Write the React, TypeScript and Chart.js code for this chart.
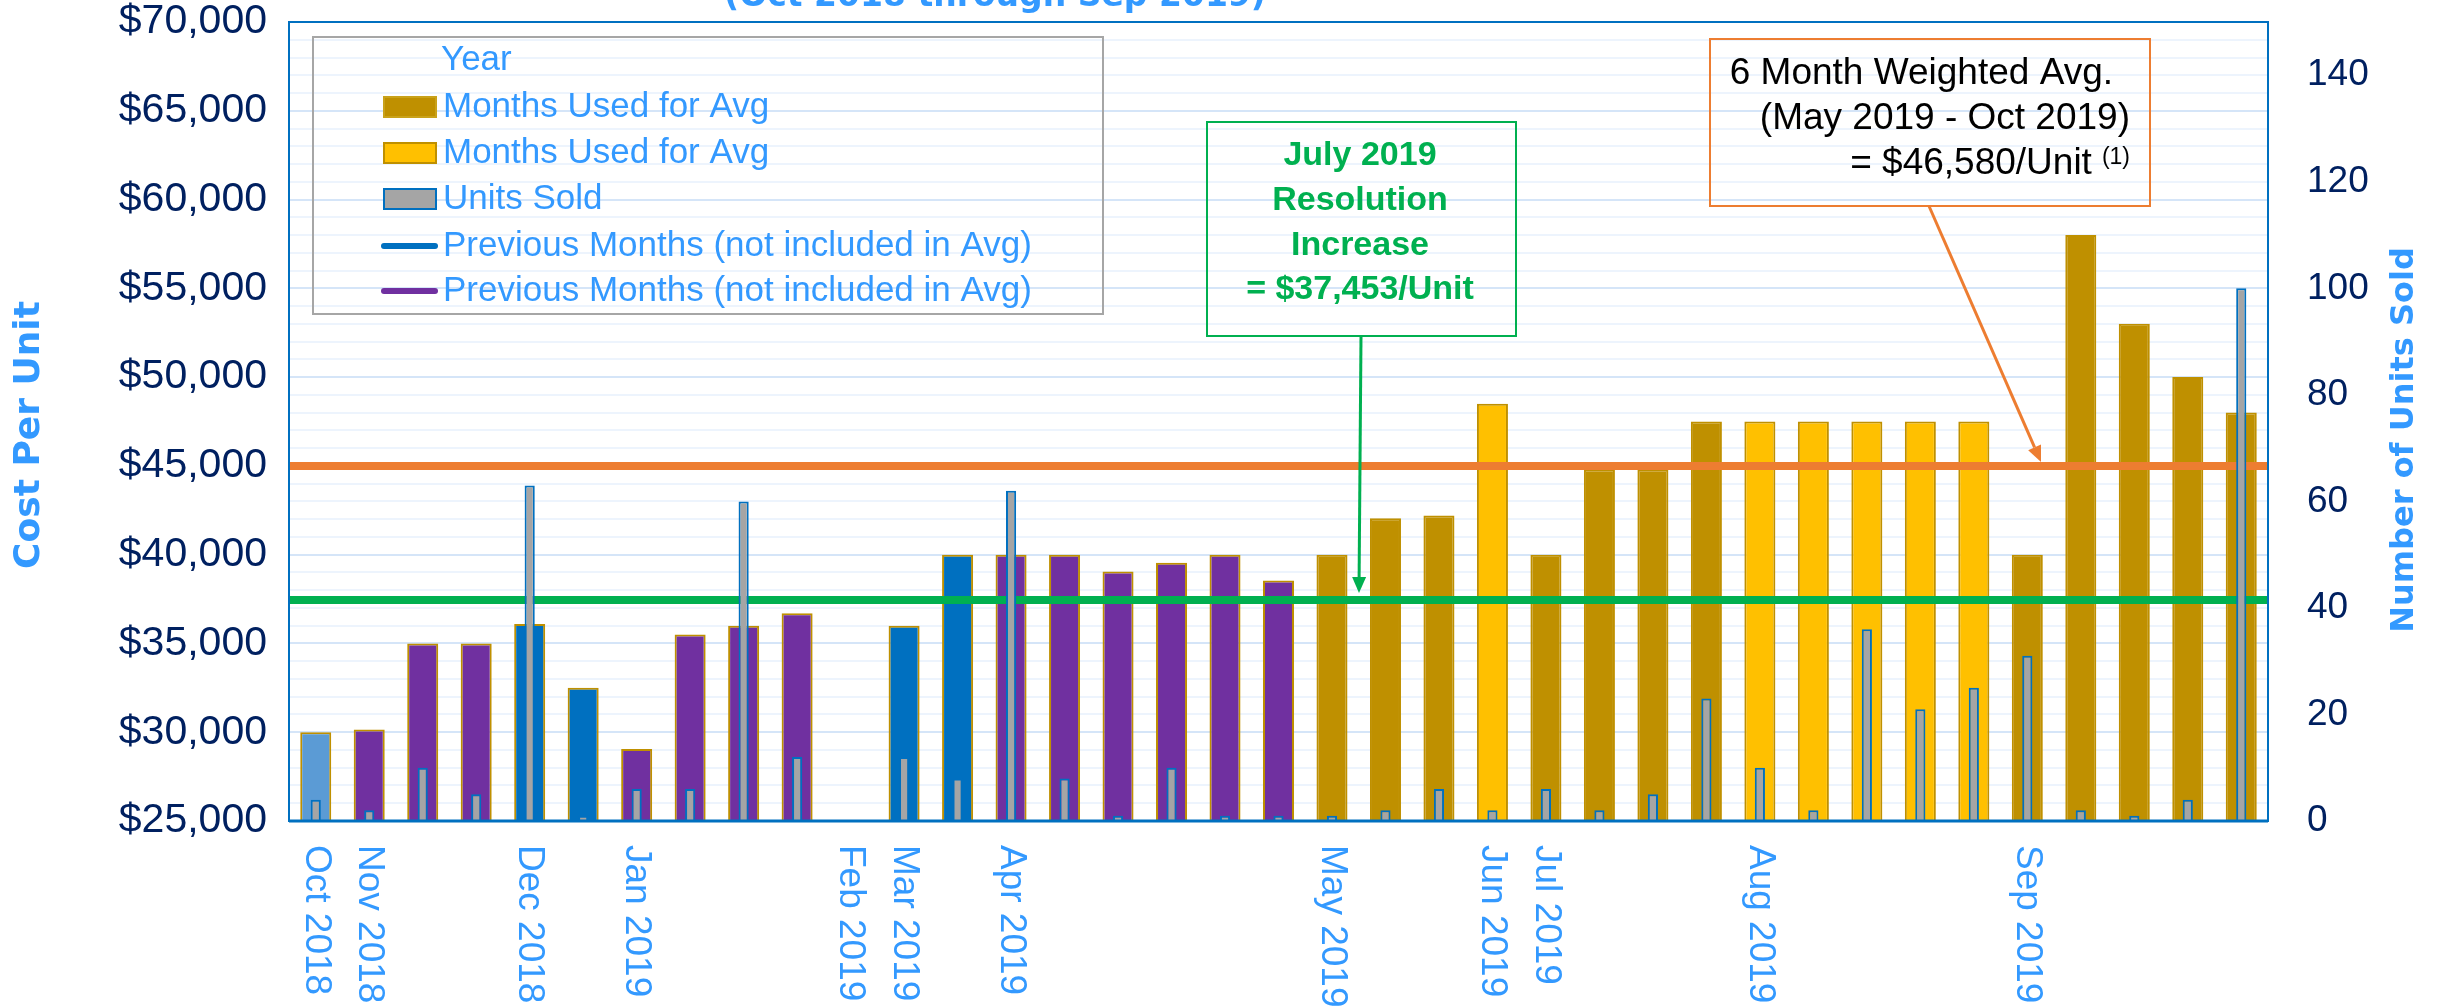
import { useEffect, useRef } from 'react';
import { Chart, registerables } from 'chart.js';

Chart.register(...registerables);

// ---------- data ----------
const monthLabels: string[] = [
  'Oct 2018', 'Nov 2018', '', '', 'Dec 2018', '', 'Jan 2019', '', '', '',
  'Feb 2019', 'Mar 2019', '', 'Apr 2019', '', '', '', '', '', 'May 2019',
  '', '', 'Jun 2019', 'Jul 2019', '', '', '', 'Aug 2019', '', '',
  '', '', 'Sep 2019', '', '', '', '',
];

const costPerUnit: (number | null)[] = [
  30000, 30150, 35000, 35000, 36100, 32500, 29050, 35500, 36000, 36700,
  null, 36000, 40000, 40000, 40000, 39050, 39550, 40000, 38550, 40000,
  42050, 42200, 48500, 40000, 44800, 44800, 47500, 47500, 47500, 47500,
  47500, 47500, 40000, 58000, 53000, 50000, 48000,
];

const unitsSold: (number | null)[] = [
  4, 2, 10, 5, 63, 1, 6, 6, 60, 12,
  null, 12, 8, 62, 8, 1, 10, 1, 1, 1,
  2, 6, 2, 6, 2, 5, 23, 10, 2, 36,
  21, 25, 31, 2, 1, 4, 100,
];

// series group of each month bar
const barGroup: string[] = [
  'first', 'prevPurple', 'prevPurple', 'prevPurple', 'prevBlue', 'prevBlue', 'prevPurple', 'prevPurple', 'prevPurple', 'prevPurple',
  'prevPurple', 'prevBlue', 'prevBlue', 'prevPurple', 'prevPurple', 'prevPurple', 'prevPurple', 'prevPurple', 'prevPurple', 'avgGold',
  'avgGold', 'avgGold', 'avgYellow', 'avgGold', 'avgGold', 'avgGold', 'avgGold', 'avgYellow', 'avgYellow', 'avgYellow',
  'avgYellow', 'avgYellow', 'avgGold', 'avgGold', 'avgGold', 'avgGold', 'avgGold',
];

const weightedAvgLine = 45000;
const resolutionLine = 37453;

const costTickMin = 25000;
const costTickMax = 70000;
const costLabelStep = 5000;
const costGridStep = 1000;
const unitTicks = [0, 20, 40, 60, 80, 100, 120, 140];

const legendItems = [
  { label: 'Months Used for Avg', kind: 'box', fill: '#BF9000', stroke: '#C9A21A' },
  { label: 'Months Used for Avg', kind: 'box', fill: '#FFC000', stroke: '#BF9000' },
  { label: 'Units Sold', kind: 'box', fill: '#A5A5A5', stroke: '#0070C0' },
  { label: 'Previous Months (not included in Avg)', kind: 'line', fill: '#0070C0', stroke: '#0070C0' },
  { label: 'Previous Months (not included in Avg)', kind: 'line', fill: '#7030A0', stroke: '#7030A0' },
];

// ---------- style ----------
const palette: Record<string, string> = {
  first: '#5B9BD5',
  prevPurple: '#7030A0',
  prevBlue: '#0070C0',
  avgGold: '#BF9000',
  avgYellow: '#FFC000',
};
const SANS = "'Liberation Sans', Arial, sans-serif";
const VERD = "'DejaVu Sans', Verdana, sans-serif";
const LIGHT_BLUE_TEXT = '#3399FF';
const NAVY = '#002060';

function arrow(ctx: CanvasRenderingContext2D, x1: number, y1: number, x2: number, y2: number, color: string) {
  const ang = Math.atan2(y2 - y1, x2 - x1);
  const len = 16;
  const half = 7;
  const bx = x2 - len * Math.cos(ang);
  const by = y2 - len * Math.sin(ang);
  ctx.save();
  ctx.strokeStyle = color;
  ctx.fillStyle = color;
  ctx.lineWidth = 3;
  ctx.beginPath();
  ctx.moveTo(x1, y1);
  ctx.lineTo(bx, by);
  ctx.stroke();
  ctx.beginPath();
  ctx.moveTo(x2, y2);
  ctx.lineTo(bx + half * Math.sin(ang), by - half * Math.cos(ang));
  ctx.lineTo(bx - half * Math.sin(ang), by + half * Math.cos(ang));
  ctx.closePath();
  ctx.fill();
  ctx.restore();
}

const overlayPlugin = {
  id: 'overlay',
  afterDatasetsDraw(chart: any) {
    const ctx: CanvasRenderingContext2D = chart.ctx;
    const a = chart.chartArea;
    ctx.save();
    ctx.strokeStyle = '#0070C0';
    ctx.lineWidth = 2;
    ctx.strokeRect(a.left, a.top, a.right - a.left, a.bottom - a.top);
    ctx.lineWidth = 3;
    ctx.beginPath();
    ctx.moveTo(a.left, a.bottom);
    ctx.lineTo(a.right, a.bottom);
    ctx.stroke();
    ctx.restore();
  },
  afterDraw(chart: any) {
    const ctx: CanvasRenderingContext2D = chart.ctx;
    const xs = chart.scales.x;
    ctx.save();

    // clipped title
    ctx.font = `bold 33px ${VERD}`;
    ctx.fillStyle = LIGHT_BLUE_TEXT;
    ctx.textAlign = 'center';
    ctx.textBaseline = 'alphabetic';
    ctx.fillText('(Oct 2018 through Sep 2019)', 995, 6);

    // axis titles
    ctx.font = `bold 36px ${VERD}`;
    ctx.textBaseline = 'middle';
    ctx.save();
    ctx.translate(30, 435);
    ctx.rotate(-Math.PI / 2);
    ctx.fillText('Cost Per Unit', 0, 0);
    ctx.restore();
    ctx.font = `bold 32px ${VERD}`;
    ctx.save();
    ctx.translate(2405, 440);
    ctx.rotate(-Math.PI / 2);
    ctx.fillText('Number of Units Sold', 0, 0);
    ctx.restore();

    // x labels (rotated clockwise)
    ctx.font = `37px ${SANS}`;
    ctx.textAlign = 'left';
    ctx.textBaseline = 'middle';
    monthLabels.forEach((lab, i) => {
      if (!lab) return;
      const x = xs.getPixelForValue(i);
      ctx.save();
      ctx.translate(x, 845);
      ctx.rotate(Math.PI / 2);
      ctx.fillText(lab, 0, 0);
      ctx.restore();
    });

    // legend
    ctx.strokeStyle = '#A6A6A6';
    ctx.lineWidth = 2;
    ctx.strokeRect(313, 37, 790, 277);
    ctx.font = `35px ${SANS}`;
    ctx.fillStyle = LIGHT_BLUE_TEXT;
    ctx.textAlign = 'left';
    ctx.textBaseline = 'middle';
    ctx.fillText('Year', 441, 60);
    const rowsY = [107, 153, 199, 246, 291];
    legendItems.forEach((it, k) => {
      const y = rowsY[k];
      if (it.kind === 'box') {
        ctx.fillStyle = it.fill;
        ctx.fillRect(384, y - 10, 52, 20);
        ctx.strokeStyle = it.stroke;
        ctx.lineWidth = 2;
        ctx.strokeRect(384, y - 10, 52, 20);
      } else {
        ctx.strokeStyle = it.stroke;
        ctx.lineWidth = 6;
        ctx.lineCap = 'round';
        ctx.beginPath();
        ctx.moveTo(384, y);
        ctx.lineTo(435, y);
        ctx.stroke();
        ctx.lineCap = 'butt';
      }
      ctx.fillStyle = LIGHT_BLUE_TEXT;
      ctx.fillText(it.label, 443, y);
    });

    // green annotation
    ctx.strokeStyle = '#00B050';
    ctx.lineWidth = 2;
    ctx.strokeRect(1207, 122, 309, 214);
    ctx.fillStyle = '#00B050';
    ctx.font = `bold 34px ${SANS}`;
    ctx.textAlign = 'center';
    ctx.textBaseline = 'middle';
    ['July 2019', 'Resolution', 'Increase', '= $37,453/Unit'].forEach((t, k) => {
      ctx.fillText(t, 1360, 156 + k * 44.7);
    });
    arrow(ctx, 1361, 336, 1359, 593, '#00B050');

    // orange annotation
    ctx.strokeStyle = '#ED7D31';
    ctx.lineWidth = 2;
    ctx.strokeRect(1710, 39, 440, 167);
    ctx.fillStyle = '#000000';
    ctx.textAlign = 'right';
    ctx.textBaseline = 'alphabetic';
    ctx.font = `37px ${SANS}`;
    ctx.fillText('6 Month Weighted Avg.', 2113, 84);
    ctx.fillText('(May 2019 - Oct 2019)', 2130, 129);
    ctx.font = `23px ${SANS}`;
    const supW = ctx.measureText('(1)').width;
    ctx.fillText('(1)', 2130, 164);
    ctx.font = `37px ${SANS}`;
    ctx.fillText('= $46,580/Unit', 2130 - supW - 10, 174);
    arrow(ctx, 1929, 206, 2041, 462, '#ED7D31');

    ctx.restore();
  },
};

function buildCostTicks() {
  const t: { value: number }[] = [];
  for (let v = costTickMin; v <= costTickMax; v += costGridStep) t.push({ value: v });
  return t;
}

export default function App() {
  const ref = useRef<HTMLCanvasElement>(null);
  useEffect(() => {
    const canvas = ref.current;
    if (!canvas) return;
    const chart = new Chart(canvas, {
      type: 'bar',
      data: {
        labels: monthLabels,
        datasets: [
          {
            type: 'bar',
            label: 'Units Sold',
            data: unitsSold,
            backgroundColor: '#A5A5A5',
            borderColor: '#0070C0',
            borderWidth: 2,
            barPercentage: 0.19,
            categoryPercentage: 1,
            grouped: false,
            xAxisID: 'x',
            yAxisID: 'y2',
            order: 0,
          } as any,
          {
            type: 'line',
            label: '6 Month Weighted Avg',
            data: [{ x: 0, y: weightedAvgLine }, { x: 1, y: weightedAvgLine }],
            borderColor: '#ED7D31',
            borderWidth: 8,
            pointRadius: 0,
            fill: false,
            xAxisID: 'xLine',
            yAxisID: 'y',
            order: 1,
          } as any,
          {
            type: 'line',
            label: 'July 2019 Resolution Increase',
            data: [{ x: 0, y: resolutionLine }, { x: 1, y: resolutionLine }],
            borderColor: '#00B050',
            borderWidth: 8,
            pointRadius: 0,
            fill: false,
            xAxisID: 'xLine',
            yAxisID: 'y',
            order: 2,
          } as any,
          {
            type: 'bar',
            label: 'Cost Per Unit',
            data: costPerUnit,
            backgroundColor: barGroup.map((g) => palette[g]),
            borderColor: '#BF9000',
            borderWidth: 2,
            barPercentage: 0.58,
            categoryPercentage: 1,
            grouped: false,
            xAxisID: 'x',
            yAxisID: 'y',
            order: 3,
          } as any,
        ],
      },
      options: {
        responsive: false,
        animation: false,
        devicePixelRatio: 1,
        layout: { padding: { top: 22, left: 0, right: 0, bottom: 0 } },
        plugins: { legend: { display: false }, tooltip: { enabled: false }, title: { display: false } },
        scales: {
          x: {
            type: 'category',
            offset: true,
            grid: { display: false },
            border: { display: false },
            ticks: { display: false },
            afterFit: (s: any) => { s.height = 187; },
          },
          xLine: {
            type: 'linear',
            axis: 'x',
            min: 0,
            max: 1,
            offset: false,
            display: false,
          },
          y: {
            type: 'linear',
            position: 'left',
            min: costTickMin,
            max: costTickMax,
            afterBuildTicks: (s: any) => { s.ticks = buildCostTicks(); },
            ticks: {
              autoSkip: false,
              padding: 22,
              color: NAVY,
              font: { family: SANS, size: 41 },
              callback: (v: any) => (Number(v) % costLabelStep === 0 ? '$' + Number(v).toLocaleString('en-US') : ''),
            },
            grid: {
              color: (c: any) => (c.tick && c.tick.value % costLabelStep === 0 ? '#D5E5F8' : '#EDF4FD'),
              lineWidth: 2,
              drawTicks: false,
            },
            border: { display: false },
            afterFit: (s: any) => { s.width = 289; s.paddingTop = 0; s.paddingBottom = 0; },
          },
          y2: {
            type: 'linear',
            position: 'right',
            min: 0,
            max: 150,
            afterBuildTicks: (s: any) => { s.ticks = unitTicks.map((v) => ({ value: v })); },
            ticks: {
              autoSkip: false,
              padding: 39,
              color: NAVY,
              font: { family: SANS, size: 37 },
            },
            grid: { display: false, drawTicks: false },
            border: { display: false },
            afterFit: (s: any) => { s.width = 180; s.paddingTop = 0; s.paddingBottom = 0; },
          },
        } as any,
      },
      plugins: [overlayPlugin],
    });
    return () => chart.destroy();
  }, []);

  return (
    <div style={{ position: 'fixed', left: 0, top: 0, width: 2448, height: 1008, background: '#ffffff' }}>
      <canvas ref={ref} width={2448} height={1008} style={{ width: 2448, height: 1008, display: 'block' }} />
    </div>
  );
}
